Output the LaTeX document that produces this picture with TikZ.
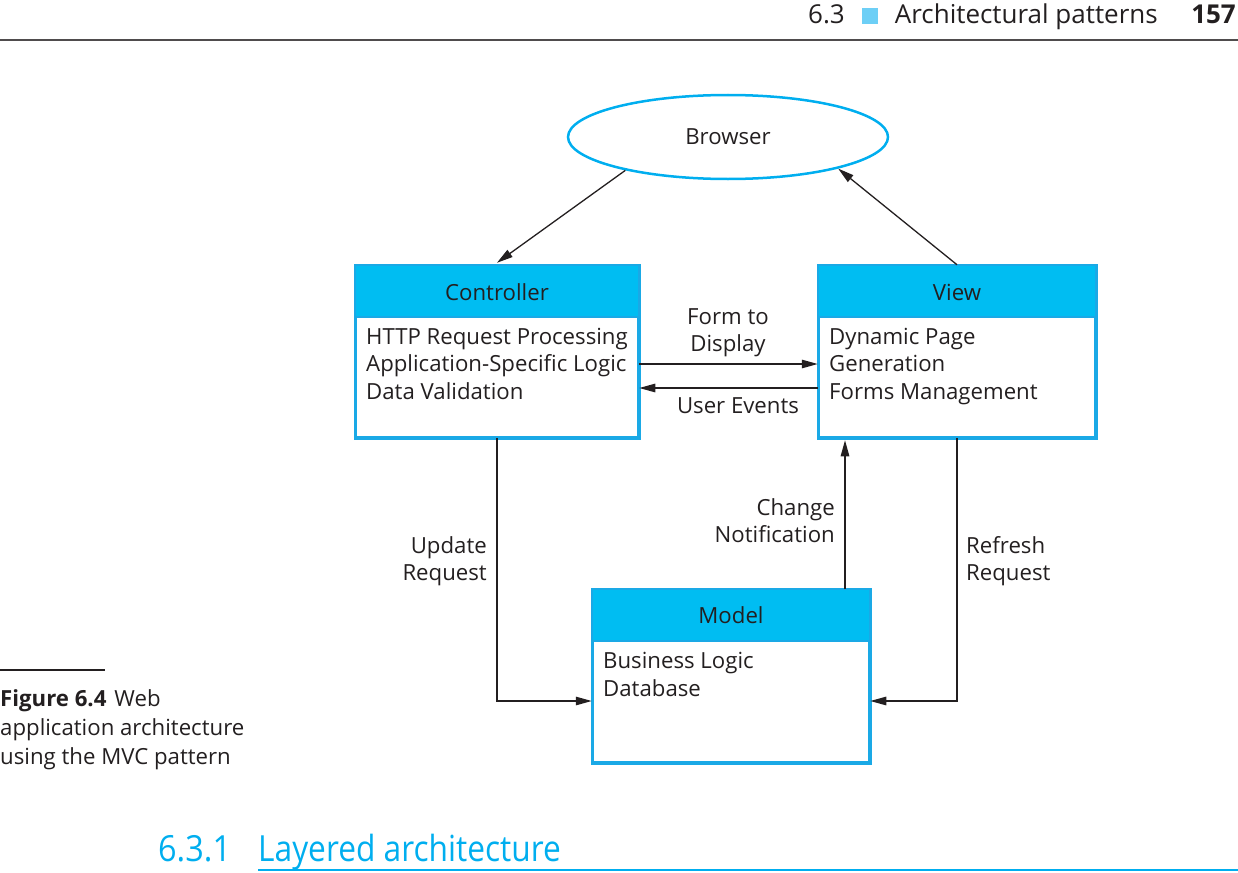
\documentclass[tikz,border=0pt]{standalone}
\usepackage{fontspec}
\setmainfont{Open Sans}
\usetikzlibrary{shapes.geometric,arrows.meta}
\definecolor{boxblue}{HTML}{00BDF2}
\definecolor{edgeblue}{HTML}{1AA9E6}
\definecolor{headblue}{HTML}{00AEEF}
\definecolor{sqblue}{HTML}{6DCFF6}
\definecolor{ink}{HTML}{231F20}
\tikzset{
  x=1pt,y=-1pt,
  box/.style={draw=edgeblue,line width=2.5pt,rectangle,inner sep=0pt},
  arr/.style={draw=ink,line width=1.3pt,-{Triangle[length=16pt,width=8.5pt]}},
  body/.style={anchor=base west,align=left,inner sep=0pt,font=\fontsize{22.2}{27.2}\selectfont,text=ink},
  lbl/.style={inner sep=0pt,font=\fontsize{22.2}{27.2}\selectfont,text=ink},
  hdrtxt/.style={inner sep=0pt,font=\fontsize{26}{30}\selectfont,text=ink},
  sectxt/.style={anchor=base west,inner sep=0pt,font=\fontsize{36}{40}\selectfont,text=headblue},
}
\begin{document}
\begin{tikzpicture}
\useasboundingbox (0,0) rectangle (1238,872);
% running header
\draw[line width=1.5pt,draw=ink!80] (0,40) -- (1238,40);
\node[hdrtxt,anchor=base east] (pg) at (1236,24) {\textbf{157}};
\node[hdrtxt,anchor=base east] (hdr) at (1158,24) {Architectural patterns};
\node[hdrtxt,anchor=base east] (num) at (845,24) {6.3};
\fill[sqblue] (862,8) rectangle (878,24);
% browser
\node[ellipse,draw=headblue,line width=2.5pt,minimum width=320,minimum height=84,inner sep=0pt,font=\fontsize{22.2}{27}\selectfont,text=ink] (browser) at (728,137) {Browser};
% boxes
\node[box,minimum width=282,minimum height=171] (ctrl) at (497,351.5) {};
\node[box,minimum width=276,minimum height=171] (view) at (957,351.5) {};
\node[box,minimum width=276,minimum height=172] (model) at (731,676) {};
\fill[boxblue] (ctrl.north west) rectangle ([yshift=-52pt]ctrl.north east);
\fill[boxblue] (view.north west) rectangle ([yshift=-52pt]view.north east);
\fill[boxblue] (model.north west) rectangle ([yshift=-52pt]model.north east);
\draw[edgeblue,line width=2.5pt] ([yshift=-52pt]ctrl.north west) -- ([yshift=-52pt]ctrl.north east);
\draw[edgeblue,line width=2.5pt] ([yshift=-52pt]view.north west) -- ([yshift=-52pt]view.north east);
\draw[edgeblue,line width=2.5pt] ([yshift=-52pt]model.north west) -- ([yshift=-52pt]model.north east);
\draw[box] (ctrl.north west) rectangle (ctrl.south east);
\draw[box] (view.north west) rectangle (view.south east);
\draw[box] (model.north west) rectangle (model.south east);
\node[lbl] (ctrlt) at (497,292) {Controller};
\node[lbl] (viewt) at (957,292) {View};
\node[lbl] (modelt) at (731,615) {Model};
\node[body] (ctrlb) at (366,399) {HTTP Request Processing\\Application-Specific Logic\\Data Validation};
\node[body] (viewb) at (829,399) {Dynamic Page\\Generation\\Forms Management};
\node[body] (modelb) at (603,696) {Business Logic\\Database};
% connectors
\draw[arr] (browser.-162) -- ([yshift=2pt]ctrl.north);
\draw[arr] (view.north) -- (browser.-16.5);
\draw[arr] ([yshift=-12.5pt]ctrl.east) -- ([yshift=-12.5pt]view.west);
\draw[arr] ([yshift=-36.5pt]view.west) -- ([yshift=-36.5pt]ctrl.east);
\draw[arr] (ctrl.south) |- ([yshift=-25pt]model.west);
\draw[arr] (view.south) |- ([yshift=-25pt]model.east);
\draw[arr] ([xshift=114pt]model.north) -- ([xshift=114pt,yshift=-2pt]model.north |- view.south);
% connector labels
\node[lbl,align=center] (l1) at (728,333) {Form to\\Display};
\node[lbl] (l2) at (738,406) {User Events};
\node[lbl,align=right,anchor=east] (l3) at (487,561) {Update\\Request};
\node[lbl,align=right,anchor=east] (l4) at (835,521) {Change\\Notification};
\node[lbl,align=left,anchor=west] (l5) at (966,561) {Refresh\\Request};
% caption
\draw[line width=1.2pt,draw=ink] (0,670) -- (105,670);
\node[anchor=base west,align=left,inner sep=0pt,font=\fontsize{22.2}{29}\selectfont,text=ink] (cap) at (0,764) {\textbf{Figure 6.4}\hspace{8pt}Web\\application architecture\\using the MVC pattern};
% section heading
\node[sectxt] (secn) at (158,861) {\scalebox{0.9}[1]{6.3.1}};
\node[sectxt] (sect) at (258,861) {\scalebox{0.88}[1]{Layered architecture}};
\draw[headblue,line width=1.5pt] (258,870) -- (1238,870);
\end{tikzpicture}
\end{document}
